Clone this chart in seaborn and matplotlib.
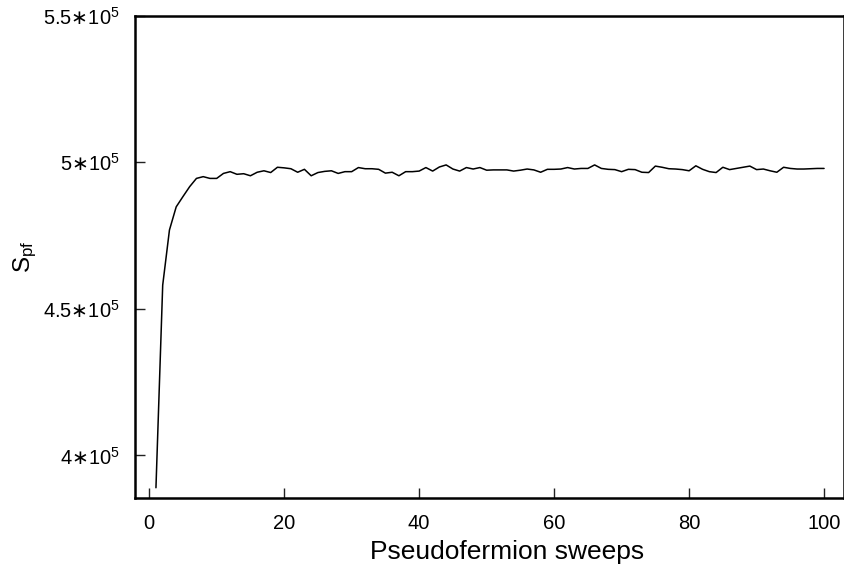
import matplotlib
matplotlib.use("Agg")
import matplotlib.pyplot as plt
import numpy as np
import seaborn as sns

# Pseudofermion action vs. sweep number
sweeps = np.arange(1, 101)
s_pf = [
    389000, 458100, 476900, 484800, 488300, 491700, 494500, 495100, 494500, 494500,
    496200, 496800, 495900, 496100, 495400, 496600, 497100, 496500, 498300, 498100,
    497800, 496600, 497600, 495400, 496500, 496900, 497100, 496200, 496800, 496800,
    498200, 497800, 497800, 497600, 496300, 496600, 495400, 496800, 496800, 497000,
    498200, 497000, 498400, 499100, 497700, 497000, 498200, 497700, 498200, 497300,
    497400, 497400, 497400, 497000, 497300, 497700, 497400, 496600, 497600, 497600,
    497700, 498200, 497700, 497900, 497900, 499100, 497900, 497600, 497500, 496800,
    497600, 497500, 496600, 496500, 498700, 498300, 497800, 497700, 497500, 497100,
    498800, 497600, 496800, 496500, 498300, 497500, 497900, 498300, 498700, 497500,
    497700, 497100, 496600, 498300, 497900, 497700, 497700, 497800, 497900, 497900,
]
y_ticks = [4e5, 4.5e5, 5e5, 5.5e5]
y_tick_labels = [r"$4\mathsf{\ast}10^{5}$", r"$4.5\mathsf{\ast}10^{5}$",
                 r"$5\mathsf{\ast}10^{5}$", r"$5.5\mathsf{\ast}10^{5}$"]
x_ticks = [0, 20, 40, 60, 80, 100]

sns.set_style("ticks")
plt.rcParams["font.family"] = ["Liberation Sans", "DejaVu Sans"]
plt.rcParams["mathtext.fontset"] = "custom"
plt.rcParams["mathtext.rm"] = "Liberation Sans"
plt.rcParams["mathtext.it"] = "Liberation Sans"
plt.rcParams["mathtext.sf"] = "DejaVu Sans"
plt.rcParams["mathtext.default"] = "regular"
plt.rcParams["text.color"] = "black"
plt.rcParams["axes.labelcolor"] = "black"
plt.rcParams["xtick.labelcolor"] = "black"
plt.rcParams["ytick.labelcolor"] = "black"

fig = plt.figure(figsize=(8.45, 5.64), dpi=100)
ax = fig.add_axes([0.1598, 0.1165, 0.8394, 0.8557])

sns.lineplot(x=sweeps, y=s_pf, ax=ax, color="black", linewidth=1.1)

ax.set_xlim(-2.1, 103)
ax.set_ylim(3.854e5, 5.5e5)
ax.set_xticks(x_ticks)
ax.set_yticks(y_ticks)
ax.set_yticklabels(y_tick_labels)

for side in ["left", "right", "top", "bottom"]:
    ax.spines[side].set_linewidth(1.8)
    ax.spines[side].set_color("black")
    ax.spines[side].set_zorder(1)

ax.tick_params(axis="both", which="major", direction="in", length=7, width=1.0,
               color="#222222", labelsize=14.5, pad=11,
               bottom=True, left=True, top=False, right=False)

ax.set_xlabel("Pseudofermion sweeps", fontsize=19)
ax.xaxis.set_label_coords(0.5245, -0.086)
ax.set_ylabel("$S_{pf}$", fontsize=17.5)
ax.yaxis.set_label_coords(-0.135, 0.5)

fig.savefig("out.png", dpi=100)
